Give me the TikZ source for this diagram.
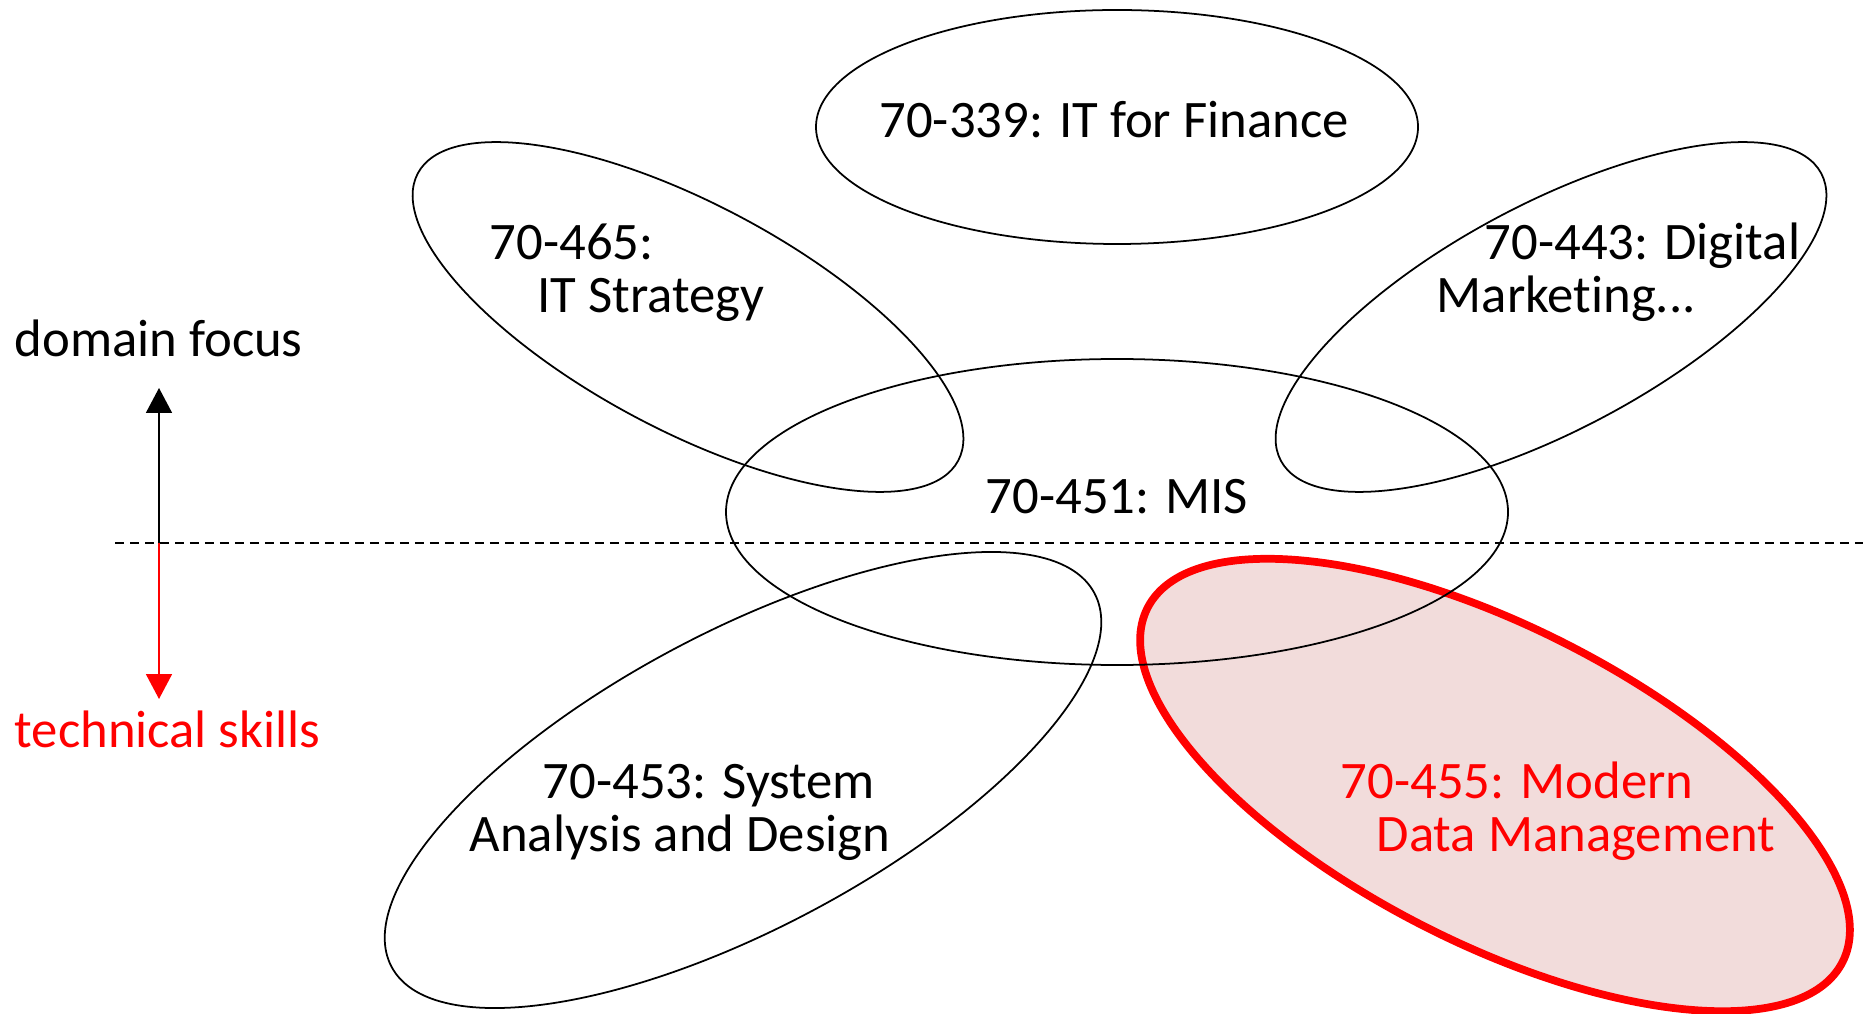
\documentclass[tikz,border=0pt]{standalone}
\usepackage{fontspec}
\setmainfont[Ligatures={TeX,NoCommon}]{Carlito}
\usetikzlibrary{shapes.geometric,arrows.meta}
\definecolor{datafill}{RGB}{242,220,219}

\begin{document}
\begin{tikzpicture}[
    course/.style={ellipse, draw=black, line width=0.5pt, inner sep=0},
    label/.style={inner sep=0, font=\fontsize{15}{15.2}\selectfont, align=left},
    axis/.style={line width=0.5pt, -{Triangle[width=0.26cm, length=0.25cm]}},
  ]
  \useasboundingbox (0,0) rectangle (18.63,10.13);
  % the highlighted course goes first so the outlines stay on top of its fill
  \node [course, draw=red, line width=2.2pt, fill=datafill, minimum width=7.8cm, minimum height=3.16cm, rotate=-27] (data) at (14.95, 2.28) {};
  \node [course, minimum width=6.02cm, minimum height=2.34cm] (finance) at (11.17, 8.86) {};
  \node [course, minimum width=7.82cm, minimum height=3.06cm] (mis) at (11.17, 5.01) {};
  \node [course, minimum width=6.12cm, minimum height=2.26cm, rotate=-28] (strategy) at (6.88, 6.96) {};
  \node [course, minimum width=6.12cm, minimum height=2.26cm, rotate=28] (marketing) at (15.51, 6.96) {};
  \node [course, minimum width=7.96cm, minimum height=2.96cm, rotate=28] (system) at (7.43, 2.33) {};
  % course titles
  \node [label, anchor=base] (financetext) at (11.14, 8.75) {70-339: IT for Finance};
  \node [label, anchor=base] (mistext) at (11.17, 4.99) {70-451: MIS};
  \node [label, anchor=base west] (strategytext) at (4.89, 7.00) {70-465:\\\hspace*{0.48cm}IT Strategy};
  \node [label, anchor=base west] (marketingtext) at (14.36, 7.00) {\hspace*{0.48cm}70-443: Digital\\Marketing...};
  \node [label, anchor=base west] (systemtext) at (4.69, 1.615) {\hspace*{0.73cm}70-453: System\\Analysis and Design};
  \node [label, anchor=base west, text=red] (datatext) at (13.40, 1.615) {70-455: Modern\\\hspace*{0.36cm}Data Management};
  % axis on the left
  \node [label, anchor=base west] (focus) at (0.14, 6.56) {domain focus};
  \node [label, anchor=base west, text=red] (skills) at (0.14, 2.66) {technical skills};
  \coordinate (split) at (1.59, 4.70);
  \coordinate (focustip) at (1.59, 6.25);
  \coordinate (skilltip) at (1.59, 3.14);
  \coordinate (dashstart) at (1.15, 4.70);
  \coordinate (dashend) at (18.63, 4.70);
  \draw [axis] (split) -- (focustip);
  \draw [axis, red] (split) -- (skilltip);
  \draw [line width=0.5pt, dash pattern=on 0.09cm off 0.06cm] (dashstart) -- (dashend);
\end{tikzpicture}
\end{document}
